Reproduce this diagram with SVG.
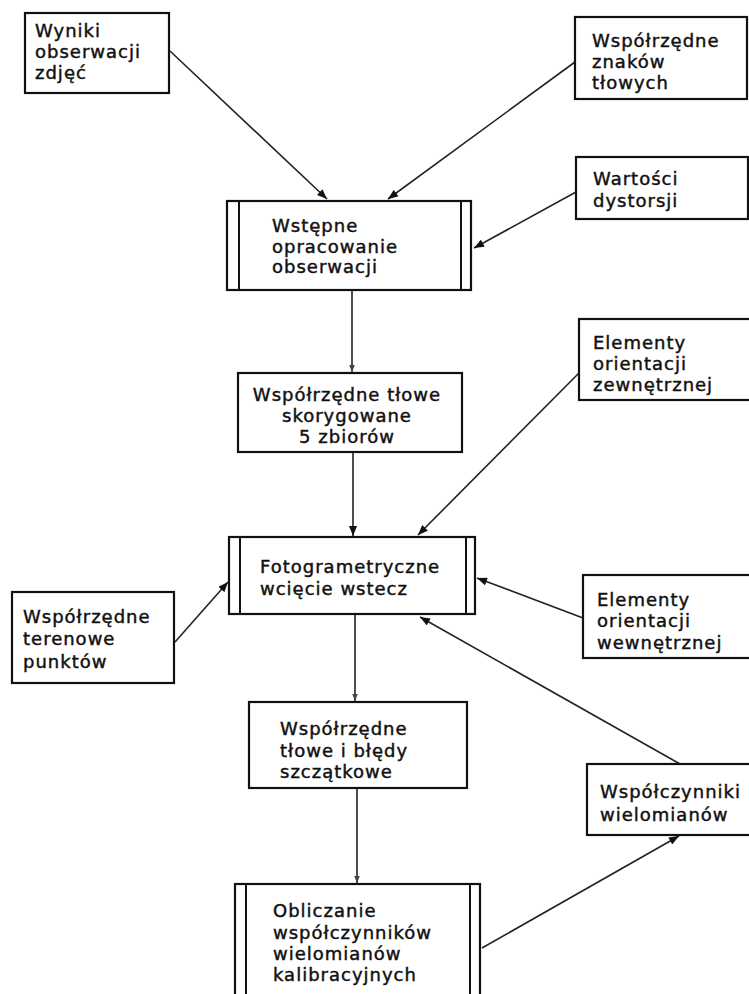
<svg xmlns="http://www.w3.org/2000/svg" width="749" height="994" viewBox="0 0 749 994">
<style>
.box{fill:#fff;stroke:#111;stroke-width:2.2}
.bar{stroke:#111;stroke-width:2}
.t{font-family:"DejaVu Sans","Liberation Sans",sans-serif;font-size:18px;letter-spacing:1px;fill:#111;stroke:#111;stroke-width:0.45}
.c{text-anchor:middle}
.con{stroke:#222;stroke-width:1.6;fill:none}
</style>
<defs>
<marker id="ah" viewBox="0 0 10 8" refX="10" refY="4" markerWidth="11" markerHeight="8" markerUnits="userSpaceOnUse" orient="auto"><path d="M0,0 L10,4 L0,8 z" fill="#111"/></marker>
<marker id="as" viewBox="0 0 10 8" refX="10" refY="4" markerWidth="7" markerHeight="6" markerUnits="userSpaceOnUse" orient="auto"><path d="M0,0 L10,4 L0,8 z" fill="#444"/></marker>
</defs>
<rect width="749" height="994" fill="#fff"/>
<g id="connectors">
<line class="con" x1="170" y1="51" x2="327" y2="199" marker-end="url(#ah)"/>
<line class="con" x1="575" y1="62" x2="388" y2="199" marker-end="url(#ah)"/>
<line class="con" x1="576" y1="192" x2="474" y2="248" marker-end="url(#ah)"/>
<line class="con" x1="352" y1="291" x2="352" y2="372" marker-end="url(#as)"/>
<line class="con" x1="579" y1="373" x2="418" y2="535" marker-end="url(#ah)"/>
<line class="con" x1="353" y1="452" x2="353" y2="536" marker-end="url(#ah)"/>
<line class="con" x1="175" y1="642" x2="228" y2="582" marker-end="url(#ah)"/>
<line class="con" x1="583" y1="618" x2="477" y2="578" marker-end="url(#ah)"/>
<line class="con" x1="680" y1="764" x2="420" y2="617" marker-end="url(#ah)"/>
<line class="con" x1="355" y1="615" x2="355" y2="701" marker-end="url(#as)"/>
<line class="con" x1="357" y1="789" x2="357" y2="883" marker-end="url(#as)"/>
<line class="con" x1="482" y1="948" x2="679" y2="836" marker-end="url(#ah)"/>
</g>
<g id="n1">
<rect class="box" x="25" y="13" width="144" height="80"/>
<text class="t" x="35" y="37">Wyniki</text>
<text class="t" x="35" y="58">obserwacji</text>
<text class="t" x="35" y="79">zdjęć</text>
</g>
<g id="n2">
<rect class="box" x="575" y="17" width="172" height="82"/>
<text class="t" x="592" y="47">Współrzędne</text>
<text class="t" x="592" y="68">znaków</text>
<text class="t" x="592" y="89">tłowych</text>
</g>
<g id="n3">
<rect class="box" x="227" y="201" width="244" height="89"/>
<line class="bar" x1="239" y1="201" x2="239" y2="290"/>
<line class="bar" x1="461" y1="201" x2="461" y2="290"/>
<text class="t" x="272" y="232">Wstępne</text>
<text class="t" x="272" y="253">opracowanie</text>
<text class="t" x="272" y="273">obserwacji</text>
</g>
<g id="n4">
<rect class="box" x="576" y="157" width="172" height="62"/>
<text class="t" x="593" y="185">Wartości</text>
<text class="t" x="593" y="207">dystorsji</text>
</g>
<g id="n5">
<rect class="box" x="238" y="373" width="224" height="79"/>
<text class="t c" x="347" y="401">Współrzędne tłowe</text>
<text class="t c" x="347" y="422">skorygowane</text>
<text class="t c" x="347" y="443">5 zbiorów</text>
</g>
<g id="n6">
<rect class="box" x="579" y="319" width="174" height="81"/>
<text class="t" x="593" y="349">Elementy</text>
<text class="t" x="593" y="370">orientacji</text>
<text class="t" x="593" y="391">zewnętrznej</text>
</g>
<g id="n7">
<rect class="box" x="229" y="537" width="246" height="77"/>
<line class="bar" x1="240" y1="537" x2="240" y2="614"/>
<line class="bar" x1="466" y1="537" x2="466" y2="614"/>
<text class="t" x="260" y="573">Fotogrametryczne</text>
<text class="t" x="260" y="595">wcięcie wstecz</text>
</g>
<g id="n8">
<rect class="box" x="12" y="592" width="162" height="91"/>
<text class="t" x="23" y="623">Współrzędne</text>
<text class="t" x="23" y="645">terenowe</text>
<text class="t" x="23" y="668">punktów</text>
</g>
<g id="n9">
<rect class="box" x="583" y="575" width="170" height="83"/>
<text class="t" x="597" y="606">Elementy</text>
<text class="t" x="597" y="627">orientacji</text>
<text class="t" x="597" y="649">wewnętrznej</text>
</g>
<g id="n10">
<rect class="box" x="249" y="702" width="218" height="86"/>
<text class="t" x="280" y="735">Współrzędne</text>
<text class="t" x="280" y="757">tłowe i błędy</text>
<text class="t" x="280" y="778">szczątkowe</text>
</g>
<g id="n11">
<rect class="box" x="587" y="764" width="166" height="71"/>
<text class="t" x="600" y="798">Współczynniki</text>
<text class="t" x="600" y="821">wielomianów</text>
</g>
<g id="n12">
<rect class="box" x="235" y="884" width="245" height="120"/>
<line class="bar" x1="246" y1="884" x2="246" y2="1004"/>
<line class="bar" x1="470" y1="884" x2="470" y2="1004"/>
<text class="t" x="273" y="917">Obliczanie</text>
<text class="t" x="273" y="939">współczynników</text>
<text class="t" x="273" y="960">wielomianów</text>
<text class="t" x="273" y="981">kalibracyjnych</text>
</g>
</svg>
